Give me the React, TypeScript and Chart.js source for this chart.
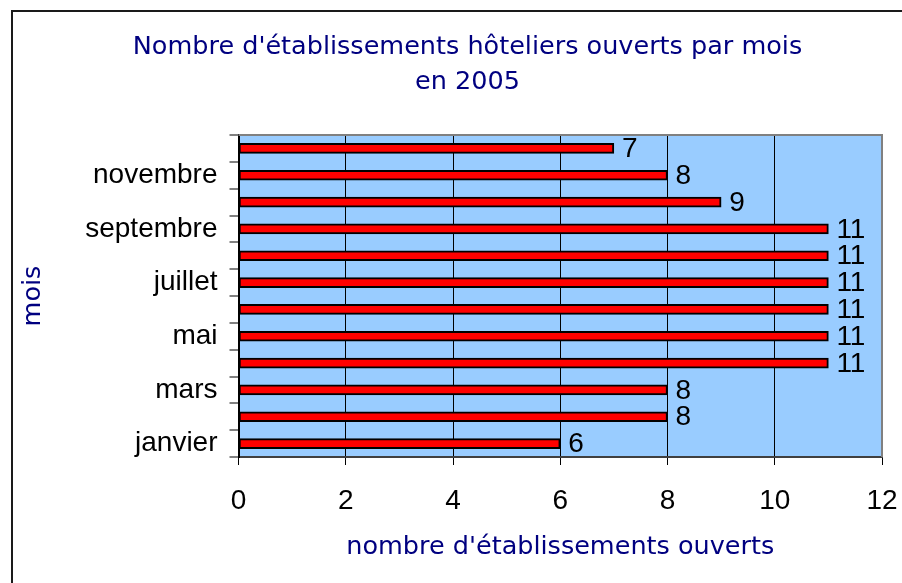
import React, { useEffect, useRef } from "react";
import { Chart, registerables } from "chart.js";

Chart.register(...registerables);

const months = [
  "janvier", "février", "mars", "avril", "mai", "juin",
  "juillet", "août", "septembre", "octobre", "novembre", "décembre",
];
const values = [6, 8, 8, 11, 11, 11, 11, 11, 11, 9, 8, 7];
const titleLines = ["Nombre d'établissements hôteliers ouverts par mois", "en 2005"];
const xTitle = "nombre d'établissements ouverts";
const yTitle = "mois";

const NAVY = "#000080";

const framePlugin = {
  id: "frame",
  beforeDraw(chart: any) {
    const { ctx, chartArea } = chart;
    ctx.save();
    ctx.fillStyle = "#1a1a1a";
    ctx.fillRect(11, 10, chart.width, 2);
    ctx.fillRect(11, 10, 2, chart.height);
    ctx.fillStyle = "#99CCFF";
    ctx.fillRect(chartArea.left, chartArea.top, chartArea.right - chartArea.left, chartArea.bottom - chartArea.top);
    ctx.fillStyle = NAVY;
    ctx.font = "25.5px 'DejaVu Sans'";
    ctx.textAlign = "center";
    ctx.textBaseline = "middle";
    ctx.fillText(titleLines[0], 467.5, 47);
    ctx.fillText(titleLines[1], 467.5, 82);
    ctx.restore();
  },
  beforeDatasetsDraw(chart: any) {
    const { ctx, chartArea } = chart;
    ctx.save();
    ctx.strokeStyle = "#808080";
    ctx.lineWidth = 2;
    ctx.beginPath();
    ctx.moveTo(chartArea.left, chartArea.top);
    ctx.lineTo(chartArea.right, chartArea.top);
    ctx.lineTo(chartArea.right, chartArea.bottom);
    ctx.stroke();
    ctx.restore();
  },
  afterDatasetsDraw(chart: any) {
    const { ctx } = chart;
    const meta = chart.getDatasetMeta(0);
    ctx.save();
    ctx.fillStyle = "#000";
    ctx.font = "28px 'Liberation Sans'";
    ctx.textAlign = "left";
    ctx.textBaseline = "middle";
    meta.data.forEach((bar: any, i: number) => {
      ctx.fillText(String(values[i]), bar.x + 8, bar.y + 1);
    });
    ctx.restore();
  },
};

export default function App() {
  const ref = useRef<HTMLCanvasElement>(null);
  useEffect(() => {
    if (!ref.current) return;
    const chart = new Chart(ref.current, {
      type: "bar",
      data: {
        labels: months,
        datasets: [
          {
            data: values,
            backgroundColor: "#FF0000",
            borderColor: "#000000",
            borderWidth: 2,
            borderSkipped: false,
            barThickness: 10,
          },
        ],
      },
      options: {
        indexAxis: "y",
        responsive: false,
        animation: false,
        layout: { padding: { top: 135, right: 20, left: 0, bottom: 0 } },
        plugins: {
          legend: { display: false },
          title: { display: false },
          tooltip: { enabled: false },
        },
        scales: {
          x: {
            min: 0,
            max: 12,
            ticks: {
              stepSize: 2,
              color: "#000",
              font: { family: "'Liberation Sans'", size: 28 },
              padding: 19,
            },
            grid: {
              color: "#000",
              lineWidth: 1,
              tickLength: 8,
              tickColor: "#000",
            },
            border: { color: "#404040", width: 2 },
            title: {
              display: true,
              text: xTitle,
              color: NAVY,
              font: { family: "'DejaVu Sans'", size: 25.5 },
              padding: { top: 0, bottom: 20 },
            },
            afterFit(scale: any) {
              scale.height = 126;
              scale.paddingLeft = 0;
              scale.paddingRight = 0;
            },
          },
          y: {
            reverse: true,
            ticks: {
              autoSkip: false,
              color: "#000",
              font: { family: "'Liberation Sans'", size: 28 },
              padding: 12,
              callback: (_v: any, i: number) => (i % 2 === 0 ? months[i] : ""),
            },
            grid: {
              offset: true,
              drawOnChartArea: false,
              color: "#808080",
              lineWidth: 2,
              tickLength: 9,
            },
            border: { color: "#000", width: 2 },
            title: {
              display: true,
              text: yTitle,
              color: NAVY,
              font: { family: "'DejaVu Sans'", size: 25.5 },
              padding: { top: 18, bottom: 0 },
            },
            afterFit(scale: any) {
              scale.width = 238.5;
            },
          },
        },
      },
      plugins: [framePlugin],
    });
    return () => chart.destroy();
  }, []);
  return (
    <div style={{ position: "fixed", left: 0, top: 0, width: 902, height: 583 }}>
      <canvas ref={ref} width={902} height={583} style={{ display: "block" }} />
    </div>
  );
}
